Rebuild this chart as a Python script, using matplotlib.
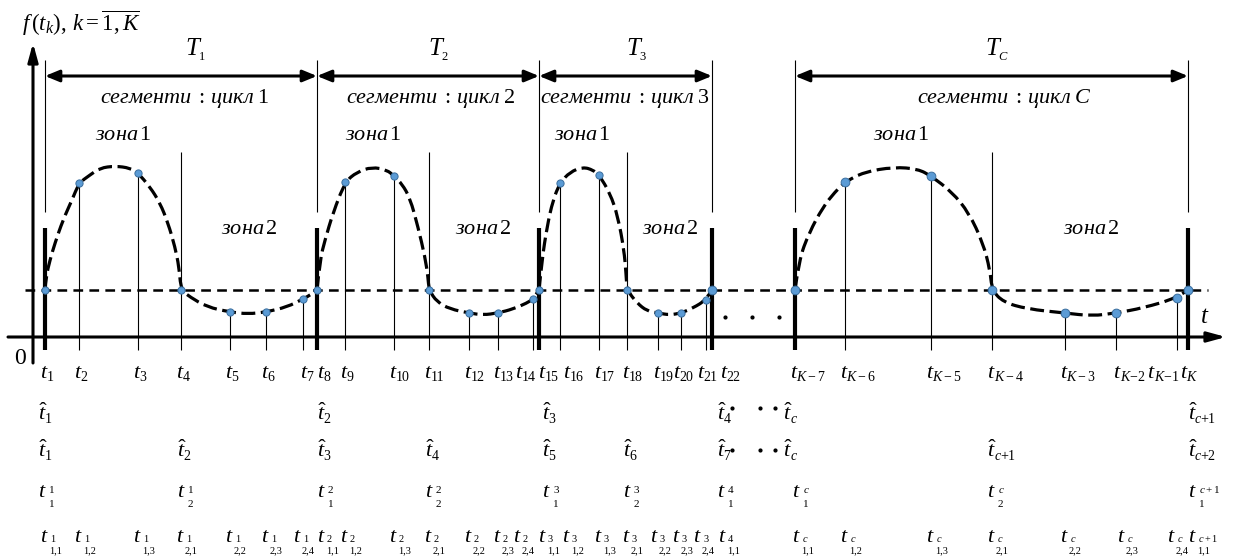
import matplotlib
matplotlib.use("Agg")
import matplotlib.pyplot as plt
from matplotlib.path import Path
from matplotlib.patches import PathPatch

plt.rcParams["mathtext.fontset"] = "custom"
plt.rcParams["mathtext.rm"] = "Liberation Serif"
plt.rcParams["mathtext.it"] = "Liberation Serif:italic"
plt.rcParams["mathtext.bf"] = "Liberation Serif:bold"
plt.rcParams["font.family"] = "Liberation Serif"
plt.rcParams["lines.scale_dashes"] = False

# time instants t_k on the axis and f(t_k)
t_pos = [12, 46, 105, 148, 197, 233, 270, 284, 312, 361, 396, 436, 465, 500, 506,
         527, 566, 594, 625, 648, 673, 679, 762, 812, 898, 959, 1032, 1083, 1144, 1155]
t_names = ["1", "2", "3", "4", "5", "6", "7", "8", "9", "10", "11", "12", "13", "14",
           "15", "16", "17", "18", "19", "20", "21", "22",
           "$K-7$", "$K-6$", "$K-5$", "$K-4$", "$K-3$", "$K{-}2$", "$K{-}1$", "$K$"]
f_vals = [47, 154, 164, 47, 25, 25, 38,
          47, 155, 161, 47, 24, 24, 38,
          47, 154, 162, 47, 24, 24, 37,
          47,
          47, 155, 161, 47, 24, 24, 39, 47]

# cycle number and (zone, segment) of every instant
cycle_idx = ["1"] * 7 + ["2"] * 7 + ["3"] * 7 + ["4"] + ["c"] * 7 + ["c+1"]
seg_idx = (["1,1", "1,2", "1,3", "2,1", "2,2", "2,3", "2,4"] * 3 + ["1,1"]
           + ["1,1", "1,2", "1,3", "2,1", "2,2", "2,3", "2,4"] + ["1,1"])

cycle_hat = ["1", "2", "3", "4", "$c$", "$c{+}1$"]
zone_hat = ["1", "2", "3", "4", "5", "6", "7", "$c$", "$c{+}1$", "$c{+}2$"]

cycle_names = ["1", "2", "3", "C"]
cycle_span = [(0, 7), (7, 14), (14, 21), (22, 29)]
threshold = 47

# dashed f(t) curve of each cycle (zone 1 arch + zone 2 trough)
arc1_x = [12, 13, 17, 22, 30, 39, 46, 57, 67, 82, 97, 105, 117, 127, 135, 142, 146, 148,
          157, 174, 197, 215, 233, 254, 270, 279, 284]
arc1_y = [47, 60, 77, 94, 117, 137, 154, 162, 169, 171, 169, 164, 150, 134, 114, 90, 70, 47,
          40, 30, 25, 23, 25, 30, 38, 43, 47]
arc2_x = [284, 287, 292, 300, 312, 324, 339, 354, 361, 369, 377, 385, 392, 395, 396,
          404, 417, 436, 450, 465, 480, 494, 500, 506]
arc2_y = [47, 77, 97, 124, 155, 165, 170, 167, 161, 153, 139, 110, 80, 60, 47,
          35, 28, 24, 22, 24, 28, 34, 38, 47]
arc3_x = [506, 509, 514, 520, 527, 537, 550, 560, 566, 577, 585, 591, 593, 594,
          604, 614, 625, 637, 648, 660, 673, 679]
arc3_y = [47, 77, 110, 137, 154, 165, 170, 167, 162, 144, 120, 87, 64, 47,
          34, 26, 24, 22, 24, 29, 37, 47]
arcC_x = [762, 766, 776, 790, 802, 812, 831, 861, 885, 898, 919, 936, 950, 957, 959,
          970, 994, 1032, 1059, 1083, 1110, 1144, 1155]
arcC_y = [47, 77, 104, 130, 145, 155, 165, 170, 168, 161, 145, 124, 94, 67, 47,
          35, 28, 24, 21, 24, 29, 39, 47]

# label nudges where labels crowd
row1_nudge = {6: -3, 7: 0, 13: -18, 14: -1, 15: 3, 19: -8, 20: -9, 21: 8,
              27: -3, 28: -30, 29: -8}
row5_nudge = {6: -10, 7: 0, 13: -20, 14: -1, 15: 2, 18: -8, 19: -9, 20: -13, 21: 6,
              22: -3, 27: 1, 28: -10, 29: 0}
mid_nudge = {0: -7, 3: -4, 7: 0, 10: -4, 14: 3, 17: -4, 21: 5, 22: -12, 25: -5, 29: 0}

seg_text_x = [152, 398, 592, 971]
zone1_x = [90, 340, 549, 868]
zone2_x = [216, 450, 637, 1058]
period_x = [152, 395, 593, 952]

fig = plt.figure(figsize=(12.35, 5.58), dpi=100)
ax = fig.add_axes([0, 0, 1, 1])
ax.set_xlim(-33, 1202)
ax.set_ylim(-221, 337)
ax.axis("off")


def smooth(xs, ys):
    # quadratic spline through the nodes, drawn by matplotlib's Path
    verts = [(xs[0], ys[0])]
    codes = [Path.MOVETO]
    n = len(xs)
    for k in range(1, n - 2):
        verts += [(xs[k], ys[k]), ((xs[k] + xs[k + 1]) / 2, (ys[k] + ys[k + 1]) / 2)]
        codes += [Path.CURVE3, Path.CURVE3]
    verts += [(xs[n - 2], ys[n - 2]), (xs[n - 1], ys[n - 1])]
    codes += [Path.CURVE3, Path.CURVE3]
    return Path(verts, codes)


def tsub(x, y, main, sub, size=16, subsize=10, dx=6.5, drop=3):
    ax.text(x, y, main, fontsize=size, ha="left", va="baseline")
    ax.text(x + dx, y - drop, sub, fontsize=subsize, ha="left", va="baseline")


def idx(s):
    return "$%s$" % s if "c" in s else s


# axes with arrows
ax.annotate("", xy=(0, 294), xytext=(0, -26),
            arrowprops=dict(arrowstyle="-|>,head_length=1.1,head_width=0.3",
                            lw=2.2, color="k", shrinkA=0, shrinkB=0))
ax.annotate("", xy=(1193, 0), xytext=(-25, 0),
            arrowprops=dict(arrowstyle="-|>,head_length=1.1,head_width=0.3",
                            lw=2.2, color="k", shrinkA=0, shrinkB=0))
ax.plot([-8, 1175], [threshold, threshold], color="k", lw=1.8, dashes=(7, 4.5))

starts = [i for i, s in enumerate(seg_idx) if s == "1,1"]
zones = [i for i, s in enumerate(seg_idx) if s == "2,1"]
bounds = sorted(starts + zones)

# boundaries, zone lines and stems
ax.vlines([t_pos[i] for i in starts], 125, 277, color="k", lw=0.8)
ax.vlines([t_pos[i] for i in starts], -13, 109, color="k", lw=3.0)
ax.vlines([t_pos[i] for i in zones], -13, 185, color="k", lw=0.8)
for i in range(len(t_pos)):
    if i not in bounds:
        ax.vlines(t_pos[i], -13, f_vals[i], color="k", lw=0.8)

for cx, cy in [(arc1_x, arc1_y), (arc2_x, arc2_y), (arc3_x, arc3_y), (arcC_x, arcC_y)]:
    ax.add_patch(PathPatch(smooth(cx, cy), fill=False, edgecolor="k", lw=2.3,
                           linestyle=(0, (10, 4)), capstyle="butt"))

small = list(range(21))
big = list(range(21, 30))
ax.plot([t_pos[i] for i in small], [f_vals[i] for i in small], "o", ms=5.2,
        mfc="#5B9BD5", mec="#3A6E9E", mew=0.7, zorder=5)
ax.plot([t_pos[i] for i in big], [f_vals[i] for i in big], "o", ms=6.3,
        mfc="#5B9BD5", mec="#3A6E9E", mew=0.7, zorder=5)

# cycle arrows and titles
for n, (a, b) in enumerate(cycle_span):
    xa, xb = t_pos[a], t_pos[b]
    ax.annotate("", xy=(xb, 261), xytext=(xa, 261),
                arrowprops=dict(arrowstyle="<|-|>,head_length=0.85,head_width=0.35",
                                lw=2.2, color="k", shrinkA=0, shrinkB=0))
    tsub(period_x[n], 282, "$T$", "$%s$" % cycle_names[n], size=18, subsize=9, dx=13, drop=5)
    ax.text(seg_text_x[n], 239,
            r"$\mathit{сегменти}\;:\,\mathit{цикл}\;%s$" % cycle_names[n],
            fontsize=16, ha="center", va="center")
    ax.text(zone1_x[n], 202, r"$\mathit{зона}\,1$", fontsize=16, ha="center", va="center")
    ax.text(zone2_x[n], 107, r"$\mathit{зона}\,2$", fontsize=16, ha="center", va="center")

ax.text(-11, 314, r"$f\,(t_k),\,k=\overline{1,K}$", fontsize=16.5, ha="left", va="center")
ax.text(-13, -21, "0", fontsize=17, ha="center", va="center")
ax.text(1172, 20, "$t$", fontsize=18, ha="center", va="center")
ax.plot([692, 719, 746], [20, 20, 20], "o", color="k", ms=2)

# row 1: t_k
for i in range(len(t_pos)):
    tsub(t_pos[i] + row1_nudge.get(i, -5), -41, "$t$", t_names[i])

# row 2: cycle starts
for n, i in enumerate(starts):
    tsub(t_pos[i] + mid_nudge[i], -83, r"$\hat{t}$", cycle_hat[n])

# rows 3, 4: zone starts
zstarts = sorted(starts + zones)
for n, i in enumerate(zstarts):
    tsub(t_pos[i] + mid_nudge[i], -120, r"$\hat{t}$", zone_hat[n])
    x4 = t_pos[i] + (-3 if i == 22 else mid_nudge[i])
    ax.text(x4, -160, "$t$", fontsize=16, ha="left", va="baseline")
    ax.text(x4 + 11, -156, idx(cycle_idx[i]), fontsize=8, ha="left", va="baseline")
    ax.text(x4 + 11, -170, seg_idx[i][0], fontsize=8, ha="left", va="baseline")

dots_x = [699, 727, 742]
ax.plot(dots_x, [-71] * 3, "o", color="k", ms=2)
ax.plot(dots_x, [-113] * 3, "o", color="k", ms=2)

# row 5: every instant
for i in range(len(t_pos)):
    x = t_pos[i] + row5_nudge.get(i, -5)
    ax.text(x, -205, "$t$", fontsize=16, ha="left", va="baseline")
    ax.text(x + 10, -205, idx(cycle_idx[i]), fontsize=7.5, ha="left", va="baseline")
    ax.text(x + 9, -216, seg_idx[i], fontsize=7.5, ha="left", va="baseline")

fig.savefig("out.png", dpi=100)
